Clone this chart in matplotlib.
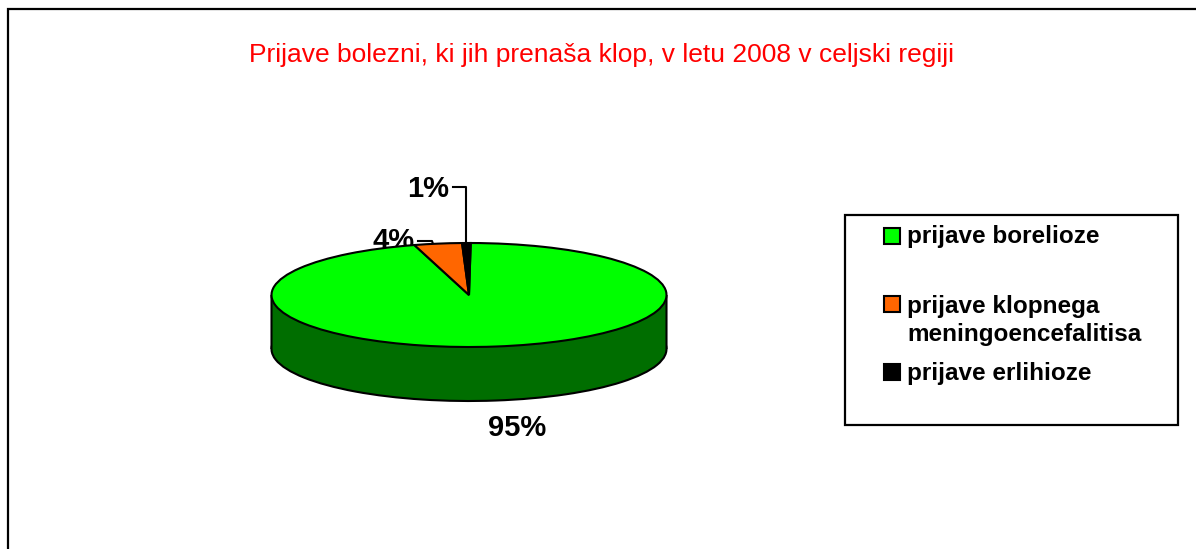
import matplotlib
matplotlib.use("Agg")
import matplotlib.pyplot as plt
from matplotlib.patches import Rectangle
from matplotlib.lines import Line2D

plt.rcParams['font.family'] = ['Liberation Sans', 'DejaVu Sans']

title = "Prijave bolezni, ki jih prenaša klop, v letu 2008 v celjski regiji"
categories = ["prijave borelioze", "prijave klopnega\nmeningoencefalitisa", "prijave erlihioze"]
values = [95.4, 3.9, 0.7]
labels = ["95%", "4%", "1%"]
colors = ["#00FF00", "#FF6600", "#000000"]
side_colors = ["#006E00", "#803300", "#000000"]

W, H = 1196, 549
fig = plt.figure(figsize=(W / 100, H / 100), dpi=100, facecolor="white")
bg = fig.add_axes([0, 0, 1, 1])
bg.set_xlim(0, W)
bg.set_ylim(H, 0)
bg.axis("off")

# outer frame: only left and top edges fall inside the picture
bg.plot([8, 8, W + 5], [H + 5, 9, 9], color="black", lw=1.6, solid_joinstyle="miter")

bg.text(601.5, 55, title, color="#FF0000", fontsize=19, ha="center", va="center")

# pie axes
cx, cy, rx, ry, depth = 469, 295, 197.5, 52, 54
pie_ax = fig.add_axes([(cx - rx) / W, 1 - (cy + ry + depth + 2) / H, 2 * rx / W, (2 * ry + depth + 2) / H])
d = depth / ry
kw = dict(startangle=89.5, counterclock=False)
# side wall (stacked pie + connecting rectangle)
pie_ax.pie(values, colors=side_colors, center=(0, -d), radius=1,
           wedgeprops=dict(edgecolor="black", linewidth=1.5), **kw)
pie_ax.add_patch(Rectangle((-1, -d), 2, d, facecolor=side_colors[0], edgecolor="none", zorder=2))
pie_ax.add_patch(Rectangle((-0.5, -d - 0.2), 1, 0.4, facecolor=side_colors[0], edgecolor="none", zorder=2))
pie_ax.add_line(Line2D([-1, -1], [-d, 0], color="black", lw=1.5, zorder=2.1, solid_capstyle="butt", snap=False))
pie_ax.add_line(Line2D([1, 1], [-d, 0], color="black", lw=1.5, zorder=2.1, solid_capstyle="butt", snap=False))
pie_ax.pie(values, colors=colors, radius=1,
           wedgeprops=dict(edgecolor="black", linewidth=1.5, zorder=3), **kw)
pie_ax.set_aspect("auto")
pie_ax.set_xlim(-1, 1)
pie_ax.set_ylim(-1 - d - 2 / ry, 1)
for p in pie_ax.patches + pie_ax.lines:
    p.set_clip_on(False)

# data labels and leader lines
bold = dict(fontsize=21, fontweight="bold", color="black", ha="center", va="center")
bg.text(517.5, 428, labels[0], **bold)
bg.text(394, 241, labels[1], **bold)
bg.text(428, 189, labels[2], **bold)
bg.plot([418, 432, 433], [241, 241, 244], color="black", lw=1.5)
bg.plot([452.5, 465.5, 465.5], [187, 187, 244], color="black", lw=1.5)

# legend
bg.add_patch(Rectangle((845, 215), 333, 210, facecolor="white", edgecolor="black", lw=1.6))
swatch_y = [236, 303.5, 372]
text_y = [236.5, 320.5, 373.5]
for c, name, sy, ty in zip(colors, categories, swatch_y, text_y):
    bg.add_patch(Rectangle((884, sy - 8), 16, 16, facecolor=c, edgecolor="black", lw=1.5))
    bg.text(907, ty, name, fontsize=17.5, fontweight="bold", color="black",
            ha="left", va="center", linespacing=1.24)

fig.savefig("out.png", dpi=100)
